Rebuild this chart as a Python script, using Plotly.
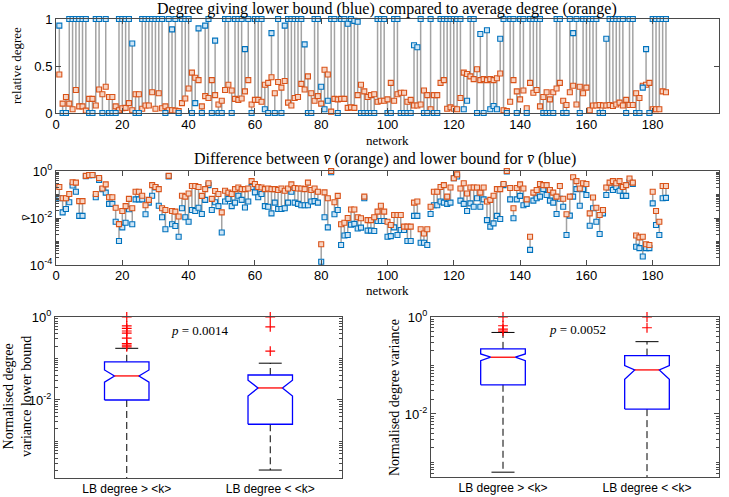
import plotly.graph_objects as go

# ---------------- data ----------------
network = list(range(1, 185))

# top panel: relative degree giving the lower bound (blue) and average degree (orange)
lb_degree = [
    0.93, 0, 0, 1, 1, 1, 1, 1, 1, 0, 0, 1, 1, 0, 1, 0, 0, 0, 1, 1,
    1, 1, 0.74, 0, 0, 1, 1, 1, 1, 1, 1, 1, 0, 1, 0.89, 1, 0, 1, 1, 1,
    0, 0.105, 0.90, 0, 0.93, 1, 0, 0.77, 0, 0, 1, 1, 0, 1, 1, 1, 0.68, 1, 0, 1,
    1, 1, 0.04, 0, 0.85, 0, 1, 0, 0.93, 1, 1, 1, 1, 1, 0.73, 0, 0, 1, 1, 0.28,
    0.04, 0.13, 1, 1, 0, 1, 1, 0.95, 1, 0.98, 0.97, 0, 0, 0, 0, 0, 1, 1, 1, 0,
    0, 1, 1, 0, 0, 0, 0, 0.72, 0.70, 1, 0, 0, 1, 0, 0, 1, 1, 1, 1, 1,
    1, 1, 0.04, 0.13, 1, 1, 0, 0.84, 0, 0.88, 0.04, 0.075, 0.04, 0.79, 1, 0, 1, 1, 0, 1,
    1, 0, 1, 1, 1, 1, 0, 0, 0, 0, 1, 1, 0, 0, 1, 0.85, 1, 0, 1, 1,
    1, 1, 1, 0, 0, 0.79, 1, 1, 1, 1, 1, 0, 1, 1, 0, 0, 0.27, 0.68, 0, 1,
    1, 1, 1, 1,
]
avg_degree = [
    0.41, 0.10, 0.17, 0.10, 0.04, 0.245, 0.07, 0.07, 0.025, 0.15, 0.15, 0.08, 0.25, 0.20, 0.28, 0.17, 0.17, 0.07, 0.03, 0.05,
    0.055, 0.105, 0.03, 0.20, 0.20, 0.045, 0.08, 0.08, 0.22, 0.045, 0.21, 0.05, 0.07, 0.03, 0.03, 0.025, 0.02, 0.105, 0.155, 0.26,
    0.43, 0.375, 0.35, 0.07, 0.18, 0.16, 0.35, 0.19, 0.09, 0.13, 0.245, 0.30, 0.24, 0.15, 0.14, 0.155, 0.23, 0.35, 0.09, 0.14,
    0.14, 0.12, 0.30, 0.32, 0.38, 0.21, 0.33, 0.27, 0.34, 0.11, 0.08, 0.16, 0.17, 0.31, 0.25, 0.39, 0.21, 0.13, 0.18, 0.10,
    0.46, 0.41, 0.015, 0.15, 0.145, 0.15, 0.15, 0.055, 0.06, 0.055, 0.19, 0.30, 0.23, 0.17, 0.19, 0.20, 0.12, 0.13, 0.13, 0.145,
    0.32, 0.13, 0.20, 0.215, 0.215, 0.12, 0.14, 0.08, 0.08, 0.09, 0.24, 0.19, 0.04, 0.19, 0.19, 0.32, 0.35, 0.045, 0.06, 0.045,
    0.04, 0.16, 0.43, 0.415, 0.39, 0.36, 0.465, 0.35, 0.36, 0.35, 0.36, 0.35, 0.37, 0.42, 0.03, 0.02, 0.12, 0.35, 0.23, 0.145,
    0.24, 0.05, 0.32, 0.215, 0.245, 0.07, 0.17, 0.22, 0.145, 0.22, 0.26, 0.32, 0.13, 0.085, 0.22, 0.29, 0.09, 0.28, 0.21, 0.27,
    0.03, 0.08, 0.08, 0.085, 0.08, 0.08, 0.085, 0.075, 0.09, 0.11, 0.08, 0.14, 0.085, 0.085, 0.21, 0.16, 0.29, 0.30, 0.32, 0.04,
    0.04, 0.04, 0.23, 0.22,
]

# middle panel: normalised degree variance v-bar (orange) and its lower bound (blue)
vbar = [
    0.21, 0.069, 0.069, 0.105, 0.33, 0.32, 0.052, 0.052, 0.62, 0.68, 0.68, 0.105, 0.50, 0.18, 0.27, 0.076, 0.076, 0.0275, 0.0055, 0.020,
    0.032, 0.065, 0.026, 0.13, 0.13, 0.089, 0.035, 0.059, 0.25, 0.21, 0.17, 0.026, 0.022, 0.62, 0.020, 0.0186, 0.0115, 0.089, 0.081, 0.11,
    0.23, 0.23, 0.21, 0.087, 0.17, 0.30, 0.065, 0.14, 0.105, 0.0174, 0.145, 0.12, 0.105, 0.17, 0.20, 0.17, 0.17, 0.18, 0.37, 0.28,
    0.21, 0.20, 0.17, 0.18, 0.17, 0.17, 0.155, 0.18, 0.145, 0.18, 0.27, 0.19, 0.18, 0.18, 0.17, 0.32, 0.155, 0.18, 0.13, 0.00076,
    0.123, 0.069, 1.0, 0.047, 0.087, 0.0054, 0.0063, 0.0100, 0.023, 0.023, 0.0107, 0.0098, 0.081, 0.0081, 0.0081, 0.0107, 0.0186, 0.033, 0.0186, 0.0069,
    0.0050, 0.0135, 0.0135, 0.0135, 0.0043, 0.0043, 0.0043, 0.045, 0.050, 0.0033, 0.0022, 0.0033, 0.030, 0.13, 0.13, 0.21, 0.25, 0.081, 0.20, 0.49,
    0.72, 0.18, 0.30, 0.11, 0.20, 0.20, 0.20, 0.12, 0.20, 0.050, 0.059, 0.089, 0.17, 0.17, 0.28, 1.0, 0.19, 0.026, 0.19, 0.27,
    0.18, 0.062, 0.0016, 0.12, 0.155, 0.28, 0.25, 0.25, 0.155, 0.12, 0.081, 0.23, 0.066, 0.0145, 0.081, 0.54, 0.37, 0.18, 0.30, 0.28,
    0.0158, 0.074, 0.0275, 0.0135, 0.022, 0.20, 0.32, 0.37, 0.30, 0.37, 0.21, 0.25, 0.48, 0.32, 0.0018, 0.0015, 0.0016, 0.00076, 0.00071, 0.13,
    0.020, 0.0069, 0.23, 0.23,
]
vbar_lb = [
    0.069, 0.0174, 0.024, 0.047, 0.24, 0.13, 0.0123, 0.0123, 0.60, 0.66, 0.66, 0.076, 0.42, 0.17, 0.12, 0.040, 0.040, 0.0069, 0.00105, 0.0040,
    0.0063, 0.0234, 0.0054, 0.062, 0.062, 0.062, 0.0145, 0.045, 0.089, 0.20, 0.033, 0.0107, 0.0033, 0.59, 0.0054, 0.0046, 0.0016, 0.026, 0.0107, 0.0069,
    0.022, 0.020, 0.0275, 0.0148, 0.059, 0.25, 0.022, 0.047, 0.032, 0.0024, 0.050, 0.065, 0.032, 0.045, 0.089, 0.059, 0.028, 0.050, 0.21, 0.123,
    0.076, 0.105, 0.032, 0.030, 0.0158, 0.045, 0.024, 0.024, 0.026, 0.045, 0.13, 0.045, 0.040, 0.035, 0.035, 0.035, 0.050, 0.052, 0.045, 0.000138,
    0.0107, 0.0040, 0.89, 0.0145, 0.022, 0.00071, 0.0018, 0.0019, 0.0052, 0.0056, 0.0036, 0.0039, 0.069, 0.0029, 0.0029, 0.0028, 0.0074, 0.0074, 0.0074, 0.0016,
    0.0017, 0.0040, 0.0019, 0.0031, 0.0031, 0.00105, 0.00105, 0.0123, 0.0123, 0.00089, 0.00089, 0.00071, 0.0148, 0.035, 0.035, 0.050, 0.045, 0.040, 0.045, 0.49,
    0.58, 0.055, 0.040, 0.020, 0.042, 0.030, 0.069, 0.030, 0.062, 0.0081, 0.0043, 0.0059, 0.0123, 0.0091, 0.25, 0.95, 0.062, 0.0098, 0.062, 0.087,
    0.035, 0.040, 0.00044, 0.055, 0.069, 0.081, 0.17, 0.095, 0.055, 0.045, 0.0148, 0.066, 0.030, 0.0019, 0.0126, 0.081, 0.17, 0.033, 0.17, 0.095,
    0.0047, 0.026, 0.0069, 0.0021, 0.0158, 0.095, 0.20, 0.155, 0.21, 0.145, 0.087, 0.087, 0.35, 0.28, 0.0006, 0.00052, 0.00023, 0.00052, 0.00052, 0.042,
    0.0050, 0.0019, 0.069, 0.072,
]

# box plots (statistics)
groups = ["LB degree &gt; &lt;k&gt;", "LB degree &lt; &lt;k&gt;"]
group_pos = [1, 2]
# left: normalised degree variance lower bound
lbv_q1 = [0.010, 0.0026]
lbv_median = [0.038, 0.0195]
lbv_q3 = [0.083, 0.040]
lbv_notch_lo = [0.027, 0.0125]
lbv_notch_hi = [0.053, 0.030]
lbv_whisk_lo = [0.00001, 0.000205]
lbv_whisk_hi = [0.176, 0.077]
lbv_outliers = [[1.0, 0.61, 0.53, 0.46, 0.41, 0.31, 0.23, 0.21, 0.19], [1.0, 0.58, 0.15]]
lbv_p = "0.0014"
# right: normalised degree variance
dv_q1 = [0.040, 0.0126]
dv_median = [0.148, 0.081]
dv_q3 = [0.22, 0.16]
dv_notch_lo = [0.126, 0.052]
dv_notch_hi = [0.173, 0.100]
dv_whisk_lo = [0.00063, 0.00001]
dv_whisk_hi = [0.48, 0.31]
dv_outliers = [[1.0, 0.66, 0.56, 0.51], [1.0, 0.60]]
dv_p = "0.0052"

# ---------------- styling ----------------
W, H = 729, 497
SERIF = "Liberation Serif"
SANS = "Liberation Sans"
BLUE = "#0072BD"
BLUE_FILL = "#cde5f6"
ORANGE = "#D95319"
ORANGE_FILL = "#f7d3c2"
GRAY = "#a3a3a3"
FRAME = "#4a4a4a"
BOX_W = 0.31
NOTCH_IN = 0.45
CAP_HALF = 0.08


def px_x(p):
    return p / W


def px_y(p):
    return 1 - p / H


fig = go.Figure()


def stems(xs, a, b, xa, ya):
    lx, ly = [], []
    for x, u, v in zip(xs, a, b):
        lx += [x, x, None]
        ly += [u, v, None]
    fig.add_trace(go.Scatter(x=lx, y=ly, mode="lines", line=dict(color=GRAY, width=1.5),
                             xaxis=xa, yaxis=ya, hoverinfo="skip"))


def marks(xs, ys, edge, fill, xa, ya):
    fig.add_trace(go.Scatter(x=xs, y=ys, mode="markers", cliponaxis=False,
                             marker=dict(symbol="square", size=5, color=fill,
                                         line=dict(color=edge, width=1.1)),
                             xaxis=xa, yaxis=ya))


stems(network, lb_degree, avg_degree, "x", "y")
marks(network, avg_degree, ORANGE, ORANGE_FILL, "x", "y")
marks(network, lb_degree, BLUE, BLUE_FILL, "x", "y")

stems(network, vbar_lb, vbar, "x2", "y2")
marks(network, vbar_lb, BLUE, BLUE_FILL, "x2", "y2")
marks(network, vbar, ORANGE, ORANGE_FILL, "x2", "y2")


def boxes(q1, med, q3, nlo, nhi, lo, hi, outl, xa, ya):
    hw = BOX_W / 2
    inner = hw * (1 - NOTCH_IN)
    bx, by, wx, wy, cx, cy, mx, my = [], [], [], [], [], [], [], []
    for p, a, m, b, n0, n1, c, d in zip(group_pos, q1, med, q3, nlo, nhi, lo, hi):
        bx += [p - hw, p - hw, p - inner, p - hw, p - hw, p + hw, p + hw, p + inner, p + hw, p + hw, p - hw, None]
        by += [a, n0, m, n1, b, b, n1, m, n0, a, a, None]
        wx += [p, p, None, p, p, None]
        wy += [b, d, None, a, c, None]
        cx += [p - CAP_HALF, p + CAP_HALF, None, p - CAP_HALF, p + CAP_HALF, None]
        cy += [d, d, None, c, c, None]
        mx += [p - inner, p + inner, None]
        my += [m, m, None]
    fig.add_trace(go.Scatter(x=wx, y=wy, mode="lines", line=dict(color="black", width=1, dash="7px,4px"),
                             xaxis=xa, yaxis=ya))
    fig.add_trace(go.Scatter(x=cx, y=cy, mode="lines", line=dict(color="black", width=1),
                             xaxis=xa, yaxis=ya))
    fig.add_trace(go.Scatter(x=bx, y=by, mode="lines", line=dict(color="#0000ff", width=1.3),
                             xaxis=xa, yaxis=ya))
    fig.add_trace(go.Scatter(x=mx, y=my, mode="lines", line=dict(color="#ff0000", width=1.3),
                             xaxis=xa, yaxis=ya))
    ox, oy = [], []
    for p, vals in zip(group_pos, outl):
        ox += [p] * len(vals)
        oy += vals
    fig.add_trace(go.Scatter(x=ox, y=oy, mode="markers", cliponaxis=False,
                             marker=dict(symbol="cross-thin", size=7, line=dict(color="#ff0000", width=1.2)),
                             xaxis=xa, yaxis=ya))


boxes(lbv_q1, lbv_median, lbv_q3, lbv_notch_lo, lbv_notch_hi, lbv_whisk_lo, lbv_whisk_hi, lbv_outliers, "x3", "y3")
boxes(dv_q1, dv_median, dv_q3, dv_notch_lo, dv_notch_hi, dv_whisk_lo, dv_whisk_hi, dv_outliers, "x4", "y4")

# ---------------- axes ----------------
tickfont = dict(family=SANS, size=13, color="black")
common = dict(showline=True, linecolor=FRAME, linewidth=1, mirror="ticks", ticks="inside",
              tickcolor=FRAME, ticklen=5, showgrid=False, zeroline=False, tickfont=tickfont,
              automargin=False)

log_minor = [m * 10 ** e for e in range(-5, 0) for m in range(1, 10)]
minor = dict(tickmode="array", tickvals=log_minor, ticks="inside", ticklen=3, tickcolor=FRAME)
cat_axis = {**common, "ticks": "", "tickfont": dict(family=SANS, size=12, color="black")}

x_dom = [px_x(56), px_x(719)]
fig.update_layout(
    xaxis=dict(domain=x_dom, anchor="y", range=[0, 200], tick0=0, dtick=20,
               ticklabelstandoff=-1, **common),
    yaxis=dict(domain=[px_y(113), px_y(19)], anchor="x", range=[0, 1],
               tickvals=[0, 0.5, 1], ticktext=["0", "0.5", "1"], **common),
    xaxis2=dict(domain=x_dom, anchor="y2", range=[0, 200], tick0=0, dtick=20,
                ticklabelstandoff=-2, **common),
    yaxis2=dict(domain=[px_y(265), px_y(171)], anchor="x2", type="log", range=[-4, 0],
                tickvals=[1e-4, 1e-2, 1], ticktext=["10<sup>-4</sup>", "10<sup>-2</sup>", "10<sup>0</sup>"],
                minor=minor, **common),
    xaxis3=dict(domain=[px_x(55), px_x(342)], anchor="y3", range=[0.5, 2.5],
                tickvals=group_pos, ticktext=groups, **cat_axis),
    yaxis3=dict(domain=[px_y(478), px_y(317)], anchor="x3", type="log", range=[-3.88, 0],
                tickvals=[1, 1e-2], ticktext=["10<sup>0</sup>", "10<sup>-2</sup>"],
                minor=minor, **common),
    xaxis4=dict(domain=[px_x(431), px_x(719)], anchor="y4", range=[0.5, 2.5],
                tickvals=group_pos, ticktext=groups, **cat_axis),
    yaxis4=dict(domain=[px_y(477), px_y(317)], anchor="x4", type="log", range=[-3.30, 0],
                tickvals=[1, 1e-2], ticktext=["10<sup>0</sup>", "10<sup>-2</sup>"],
                minor=minor, **common),
)

ann = [
    dict(text="Degree giving lower bound (blue) compared to average degree (orange)",
         x=px_x(387), y=px_y(9.5), size=16),
    dict(text="network", x=px_x(387), y=px_y(140), size=13),
    dict(text="Difference between <i>v̄</i> (orange) and lower bound for <i>v̄</i> (blue)",
         x=px_x(385), y=px_y(159), size=16),
    dict(text="network", x=px_x(387), y=px_y(290), size=13),
    dict(text="relative degree", x=px_x(17), y=px_y(66), size=13, angle=-90),
    dict(text="<i>v̄</i>", x=px_x(25), y=px_y(218), size=14, angle=-90),
    dict(text="Normalised degree<br>variance lower bound", x=px_x(17), y=px_y(397), size=14, angle=-90),
    dict(text="Normalised degree variance", x=px_x(394), y=px_y(397), size=14, angle=-90),
    dict(text="<i>p</i> = " + lbv_p, x=px_x(200), y=px_y(330), size=13),
    dict(text="<i>p</i> = " + dv_p, x=px_x(577), y=px_y(329), size=13),
]
fig.update_layout(annotations=[
    dict(text=a["text"], x=a["x"], y=a["y"], xref="paper", yref="paper", showarrow=False,
         xanchor="center", yanchor="middle", textangle=a.get("angle", 0),
         font=dict(family=SERIF, size=a["size"], color="black"))
    for a in ann
])

fig.update_layout(width=W, height=H, autosize=False,
                  margin=dict(l=0, r=0, t=0, b=0, pad=0, autoexpand=False),
                  paper_bgcolor="white", plot_bgcolor="white", showlegend=False)

fig.write_html("out.html", config={"displayModeBar": False},
               post_script="document.body.style.margin='0';document.body.style.overflow='hidden';")
